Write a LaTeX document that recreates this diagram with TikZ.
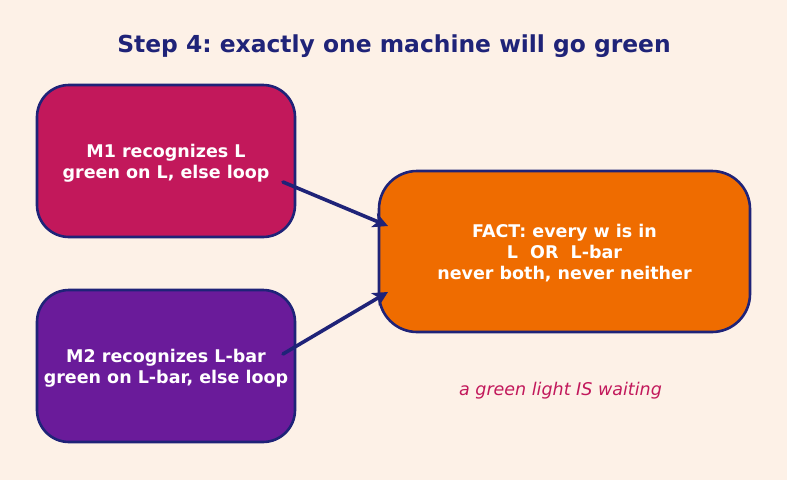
\documentclass[tikz,border=0pt]{standalone}
\usepackage{fontspec}
\setmainfont{DejaVu Sans}
\usetikzlibrary{arrows.meta}
\frenchspacing
\definecolor{bgc}{HTML}{FDF1E7}
\definecolor{navy}{HTML}{1F2378}
\definecolor{mone}{HTML}{C2185B}
\definecolor{mtwo}{HTML}{6A1B9A}
\definecolor{fact}{HTML}{EF6C00}
\tikzset{
  box/.style={draw=navy, line width=2.6pt, rounded corners=32pt, inner sep=0pt},
  boxtext/.style={text=white, inner sep=0pt, font=\fontsize{17.5}{21}\selectfont\bfseries, align=center},
  conn/.style={draw=navy, line width=3.6pt, line cap=round, -{Stealth[length=15pt,width=15pt,inset=4pt]}}
}
\begin{document}
\begin{tikzpicture}[x=1pt,y=-1pt]
\fill[bgc] (0,0) rectangle (787,480);
\useasboundingbox (0,0) rectangle (787,480);
\node[text=navy, font=\fontsize{23.4}{28}\selectfont\bfseries] (title) at (394,46) {Step 4: exactly one machine will go green};
\node[box, fill=mone, minimum width=258pt, minimum height=152pt] (m1) at (166,161) {};
\node[boxtext] (m1t) at ([yshift=-2.5pt]m1.center) {M1 recognizes L\\green on L, else loop};
\node[box, fill=mtwo, minimum width=258pt, minimum height=152pt] (m2) at (166,366) {};
\node[boxtext] (m2t) at ([yshift=-2.5pt]m2.center) {M2 recognizes L-bar\\green on L-bar, else loop};
\node[box, fill=fact, minimum width=371pt, minimum height=161pt, rounded corners=38pt] (f) at (564.5,251.5) {};
\node[boxtext] (ft) at ([yshift=-2pt]f.center) {FACT: every w is in\\L\ \ OR\ \ L-bar\\never both, never neither};
\node[text=mone, font=\fontsize{17.5}{21}\selectfont\itshape] (cap) at (560.5,390.5) {a green light IS waiting};
\coordinate (a1) at (283,182);
\coordinate (a2) at (283,354);
\coordinate (b1) at (388,226);
\coordinate (b2) at (388,292);
\draw[conn] (a1) -- (b1);
\draw[conn] (a2) -- (b2);
\end{tikzpicture}
\end{document}
